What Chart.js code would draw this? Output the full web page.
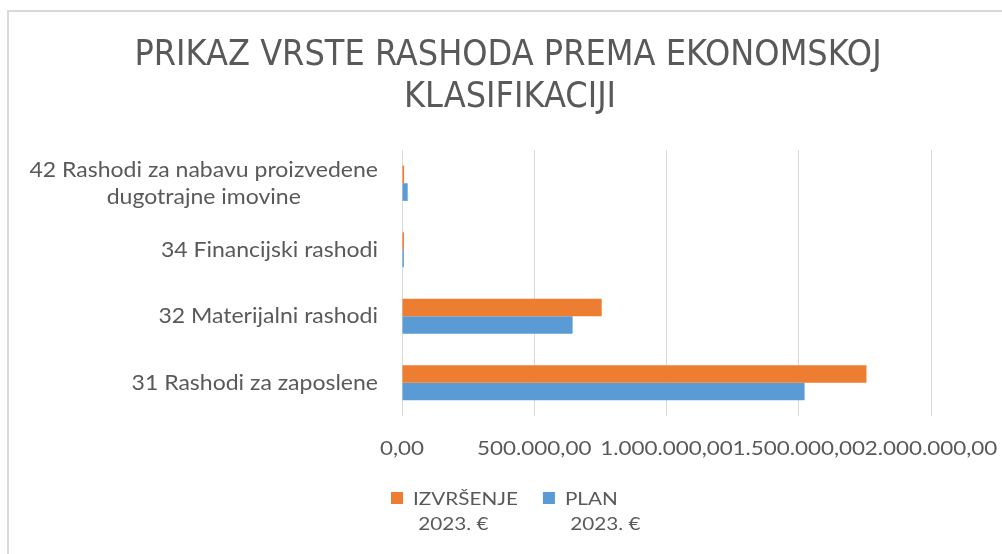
<!DOCTYPE html>
<html>
<head>
<meta charset="utf-8">
<script src="https://cdn.jsdelivr.net/npm/chart.js@4.4.1/dist/chart.umd.min.js"></script>
<style>
    html, body { margin: 0; padding: 0; background: #fff; }
    #wrap { position: relative; width: 1002px; height: 554px; overflow: hidden; }
    #frame { position: absolute; left: 7px; top: 10px; width: 1100px; height: 600px;
             border-left: 2px solid #d9d9d9; border-top: 2px solid #d9d9d9; }
    canvas { position: absolute; left: 0; top: 0; }
</style>
</head>
<body>
<div id="wrap">
    <div id="frame"></div>
    <canvas id="rashodiChart" width="1002" height="554"></canvas>
</div>
<script>
const titleLines = ['PRIKAZ VRSTE RASHODA PREMA EKONOMSKOJ', 'KLASIFIKACIJI'];
const categories = [
    ['42 Rashodi za nabavu proizvedene', 'dugotrajne imovine'],
    ['34 Financijski rashodi'],
    ['32 Materijalni rashodi'],
    ['31 Rashodi za zaposlene']
];
const izvrsenje = [8000, 7500, 755000, 1756000];
const plan = [21500, 7000, 645000, 1522000];
const seriesNames = [['IZVRŠENJE', ' 2023. €'], ['PLAN', ' 2023. €']];
const seriesColors = ['#ED7D31', '#5B9BD5'];
const xTicks = [0, 500000, 1000000, 1500000, 2000000];

const FONT = 'Lato, "Open Sans", sans-serif';
const TITLE_FONT = '"Liberation Sans Narrow", "DejaVu Sans Condensed", sans-serif';
const TEXT = '#595959';

// 1.000.000,00 style
function formatHr(v) {
    const parts = Math.round(v).toString().replace(/\B(?=(\d{3})+(?!\d))/g, '.');
    return parts + ',00';
}

// text a bit wider than the font gives (Calibri look of the original)
function stretchText(ctx, text, x, y, sx) {
    ctx.save();
    ctx.translate(x, y);
    ctx.scale(sx, 1);
    ctx.fillText(text, 0, 0);
    ctx.restore();
}

const chartTitle = {
    id: 'chartTitle',
    afterDraw(chart) {
        const ctx = chart.ctx;
        ctx.save();
        ctx.font = '35px ' + TITLE_FONT;
        ctx.fillStyle = TEXT;
        ctx.textAlign = 'center';
        ctx.textBaseline = 'alphabetic';
        stretchText(ctx, titleLines[0], 508, 65, 1.02);
        stretchText(ctx, titleLines[1], 510, 107, 1.02);
        ctx.restore();
    }
};

// category labels: block right aligned, lines centered inside the block
const categoryLabels = {
    id: 'categoryLabels',
    afterDraw(chart) {
        const ctx = chart.ctx;
        const yScale = chart.scales.y;
        const sx = 1.07;
        ctx.save();
        ctx.font = '21.5px ' + FONT;
        ctx.fillStyle = TEXT;
        ctx.textAlign = 'center';
        ctx.textBaseline = 'middle';
        const right = chart.chartArea.left - 24;
        const lineH = 27;
        categories.forEach((lines, i) => {
            const y = yScale.getPixelForValue(i);
            const w = Math.max(...lines.map(l => ctx.measureText(l).width)) * sx;
            const cx = right - w / 2;
            const top = y - (lines.length - 1) * lineH / 2;
            lines.forEach((l, j) => stretchText(ctx, l, cx, top + j * lineH, sx));
        });
        ctx.restore();
    }
};

// value labels under the plot, placed by the x scale
const valueLabels = {
    id: 'valueLabels',
    afterDraw(chart) {
        const ctx = chart.ctx;
        const xScale = chart.scales.x;
        ctx.save();
        ctx.font = '19.5px ' + FONT;
        ctx.fillStyle = TEXT;
        ctx.textAlign = 'center';
        ctx.textBaseline = 'alphabetic';
        xTicks.forEach(v => stretchText(ctx, formatHr(v), xScale.getPixelForValue(v), 455, 1.15));
        ctx.restore();
    }
};

// two-line legend below the plot
const wrapLegend = {
    id: 'wrapLegend',
    afterDraw(chart) {
        const ctx = chart.ctx;
        const sx = 1.15;
        ctx.save();
        ctx.font = '18px ' + FONT;
        ctx.textBaseline = 'alphabetic';
        ctx.textAlign = 'left';
        let x = 391;
        chart.data.datasets.forEach((ds, i) => {
            ctx.fillStyle = ds.backgroundColor;
            ctx.fillRect(x, 492, 12, 12);
            ctx.fillStyle = TEXT;
            const tx = x + 22;
            stretchText(ctx, seriesNames[i][0], tx, 505, sx);
            stretchText(ctx, seriesNames[i][1], tx, 530, sx);
            x = tx + ctx.measureText(seriesNames[i][0]).width * sx + 25;
        });
        ctx.restore();
    }
};

new Chart(document.getElementById('rashodiChart'), {
    type: 'bar',
    data: {
        labels: categories.map(c => c.join(' ')),
        datasets: [
            { label: seriesNames[0].join(''), data: izvrsenje, backgroundColor: seriesColors[0],
              categoryPercentage: 0.53, barPercentage: 1.0 },
            { label: seriesNames[1].join(''), data: plan, backgroundColor: seriesColors[1],
              categoryPercentage: 0.53, barPercentage: 1.0 }
        ]
    },
    options: {
        indexAxis: 'y',
        responsive: false,
        animation: false,
        layout: { padding: { top: 150, right: 71, bottom: 0, left: 0 } },
        plugins: {
            legend: { display: false },
            tooltip: { enabled: false },
            title: { display: false }
        },
        scales: {
            x: {
                min: 0,
                max: 2000000,
                afterBuildTicks(scale) { scale.ticks = xTicks.map(v => ({ value: v })); },
                afterFit(scale) { scale.height = 138; },
                grid: { color: '#d9d9d9', lineWidth: 1, drawTicks: false },
                border: { display: false },
                ticks: { display: false }
            },
            y: {
                afterFit(scale) { scale.width = 402; },
                grid: { display: false },
                border: { display: false },
                ticks: { display: false }
            }
        }
    },
    plugins: [chartTitle, categoryLabels, valueLabels, wrapLegend]
});
</script>
</body>
</html>
